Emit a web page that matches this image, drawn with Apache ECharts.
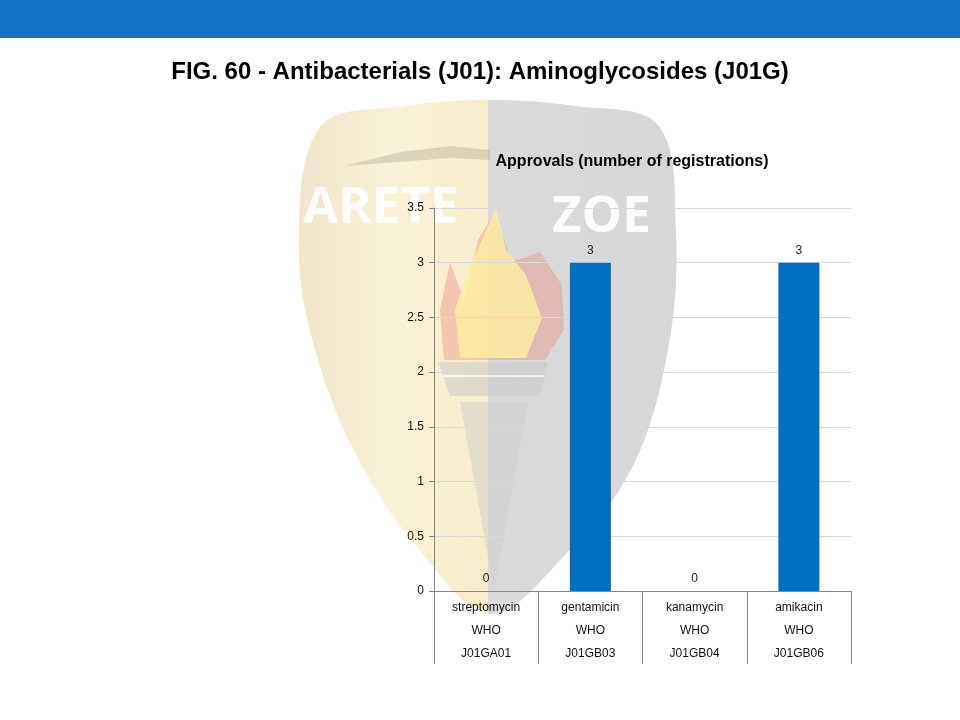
<!DOCTYPE html>
<html>
<head>
<meta charset="utf-8">
<script src="https://cdn.jsdelivr.net/npm/echarts@6/dist/echarts.min.js"></script>
<style>
  html, body { margin: 0; padding: 0; background: #fff; }
  #chart { width: 960px; height: 720px; }
</style>
</head>
<body>
<div id="chart"></div>
<script>
"use strict";
var drugs = ["streptomycin", "gentamicin", "kanamycin", "amikacin"];
var sources = ["WHO", "WHO", "WHO", "WHO"];
var codes = ["J01GA01", "J01GB03", "J01GB04", "J01GB06"];
var approvals = [0, 3, 0, 3];
var yTicks = [0, 0.5, 1, 1.5, 2, 2.5, 3, 3.5];

var chart = echarts.init(document.getElementById("chart"));

// faint shield watermark behind the plot
var watermark = [
  {
    type: "polygon",
    z: -10,
    shape: {
      smooth: 0.35,
      points: [
        [320, 127], [405, 106], [490, 100], [575, 106], [658, 125],
        [676, 230], [668, 350], [632, 468], [565, 555], [490, 614],
        [418, 548], [360, 462], [318, 360], [299, 250],
      ],
    },
    style: {
      fill: {
        type: "linear", x: 0, y: 0, x2: 1, y2: 0,
        colorStops: [
          { offset: 0, color: "#efe4cc" },
          { offset: 0.25, color: "#f9f1d8" },
          { offset: 0.5, color: "#f7eccb" },
          { offset: 0.5, color: "#dadada" },
          { offset: 1, color: "#d7d7d7" },
        ],
      },
    },
  },
  {
    // dark swoosh across the top
    type: "polygon",
    z: -9,
    shape: {
      points: [[345, 166], [400, 152], [450, 146], [490, 150], [490, 160], [450, 158], [400, 162]],
    },
    style: { fill: "rgba(160,150,135,0.3)" },
  },
  {
    // red outer flame
    type: "polygon",
    z: -9,
    shape: {
      points: [[444, 360], [440, 310], [450, 262], [464, 300], [478, 240], [494, 214], [512, 262], [540, 252], [562, 285], [564, 330], [545, 360]],
    },
    style: { fill: "rgba(236,140,125,0.4)" },
  },
  {
    // yellow inner flame
    type: "polygon",
    z: -9,
    shape: {
      points: [[460, 358], [455, 310], [468, 270], [482, 240], [496, 208], [506, 250], [526, 275], [542, 318], [526, 358]],
    },
    style: { fill: "rgba(251,240,160,0.8)" },
  },
  {
    // torch bowl
    type: "polygon",
    z: -9,
    shape: { points: [[438, 362], [548, 362], [540, 396], [450, 396]] },
    style: { fill: "rgba(200,200,200,0.5)" },
  },
  {
    type: "line",
    z: -8,
    shape: { x1: 442, y1: 376, x2: 544, y2: 376 },
    style: { stroke: "rgba(255,255,255,0.7)", lineWidth: 2 },
  },
  {
    // torch handle
    type: "polygon",
    z: -9,
    shape: { points: [[460, 402], [528, 402], [494, 590]] },
    style: { fill: "rgba(205,205,205,0.5)" },
  },
  {
    type: "text",
    z: -8,
    left: 303,
    top: 183,
    style: {
      text: "ARETE",
      font: "bold 51px 'Open Sans', sans-serif",
      fill: "rgba(255,255,255,0.9)",
    },
  },
  {
    type: "text",
    z: -8,
    left: 552,
    top: 192,
    style: {
      text: "ZOE",
      font: "bold 51px 'Open Sans', sans-serif",
      fill: "rgba(255,255,255,0.92)",
    },
  },
];

var option = {
  backgroundColor: "#ffffff",
  animation: false,
  graphic: [
    {
      type: "rect",
      z: -20,
      shape: { x: 0, y: 0, width: 960, height: 38 },
      style: { fill: "#1270c5" },
    },
  ].concat(watermark),
  title: [
    {
      text: "FIG. 60 - Antibacterials (J01): Aminoglycosides (J01G)",
      left: "center",
      top: 60,
      padding: 0,
      textStyle: {
        fontFamily: "Liberation Sans, Arial, sans-serif",
        fontSize: 24,
        fontWeight: "bold",
        color: "#000",
      },
    },
    {
      text: "Approvals (number of registrations)",
      left: 632,
      textAlign: "center",
      top: 154,
      padding: 0,
      textStyle: {
        fontFamily: "Liberation Sans, Arial, sans-serif",
        fontSize: 16,
        fontWeight: "bold",
        color: "#000",
      },
    },
  ],
  grid: {
    left: 434,
    right: 109,
    top: 208,
    bottom: 129,
  },
  xAxis: {
    type: "category",
    data: drugs,
    boundaryGap: true,
    axisLine: { lineStyle: { color: "#868686", width: 1 } },
    axisTick: {
      show: true,
      length: 73,
      lineStyle: { color: "#868686", width: 1 },
    },
    axisLabel: {
      interval: 0,
      margin: 5,
      color: "#111",
      fontFamily: "Liberation Sans, Arial, sans-serif",
      fontSize: 12,
      lineHeight: 23,
      formatter: function (value, idx) {
        return value + "\n" + sources[idx] + "\n" + codes[idx];
      },
    },
  },
  yAxis: {
    type: "value",
    min: yTicks[0],
    max: yTicks[yTicks.length - 1],
    interval: 0.5,
    axisLine: { show: true, lineStyle: { color: "#868686", width: 1 } },
    axisTick: { show: true, length: 5, lineStyle: { color: "#868686" } },
    splitLine: { lineStyle: { color: "#d9d9d9", width: 1 } },
    axisLabel: {
      margin: 10,
      color: "#111",
      fontFamily: "Liberation Sans, Arial, sans-serif",
      fontSize: 12,
    },
  },
  series: [
    {
      type: "bar",
      data: approvals,
      barWidth: 41,
      itemStyle: { color: "#006fc0" },
      label: {
        show: true,
        position: "top",
        distance: 6,
        color: "#222",
        fontFamily: "Liberation Sans, Arial, sans-serif",
        fontSize: 12,
      },
    },
  ],
};

chart.setOption(option);
</script>
</body>
</html>
